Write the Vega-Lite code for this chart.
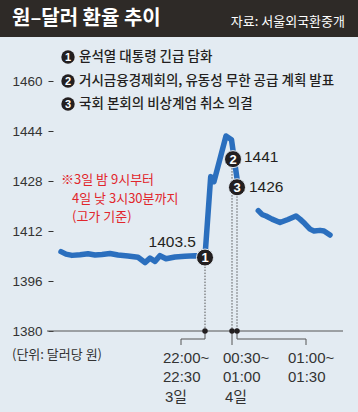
{
  "$schema": "https://vega.github.io/schema/vega-lite/v6.json",
  "width": 358,
  "height": 375,
  "autosize": {"type": "none"},
  "padding": {"top": 37, "left": 0, "right": 0, "bottom": 0},
  "background": "#2e2a27",
  "view": {"fill": "#e3ebf2", "stroke": null},
  "config": {"font": "Noto Sans CJK KR"},
  "datasets": {
    "line": [
      {"seg": 1, "x": 61, "v": 1405.4}, {"seg": 1, "x": 66, "v": 1404.6}, {"seg": 1, "x": 72, "v": 1404.2},
      {"seg": 1, "x": 80, "v": 1404.4}, {"seg": 1, "x": 88, "v": 1404.7}, {"seg": 1, "x": 95, "v": 1404.3},
      {"seg": 1, "x": 102, "v": 1404.5}, {"seg": 1, "x": 110, "v": 1404.8}, {"seg": 1, "x": 118, "v": 1404.3},
      {"seg": 1, "x": 128, "v": 1404.0}, {"seg": 1, "x": 138, "v": 1403.6}, {"seg": 1, "x": 145, "v": 1401.9},
      {"seg": 1, "x": 150, "v": 1403.3}, {"seg": 1, "x": 155, "v": 1402.3}, {"seg": 1, "x": 160, "v": 1404.1},
      {"seg": 1, "x": 166, "v": 1403.1}, {"seg": 1, "x": 175, "v": 1403.7}, {"seg": 1, "x": 185, "v": 1403.9},
      {"seg": 1, "x": 195, "v": 1404.1}, {"seg": 1, "x": 205, "v": 1403.9}, {"seg": 1, "x": 210.7, "v": 1429.4},
      {"seg": 1, "x": 214, "v": 1427.8}, {"seg": 1, "x": 226, "v": 1442.4}, {"seg": 1, "x": 231.5, "v": 1441.2},
      {"seg": 1, "x": 238, "v": 1426.5},
      {"seg": 2, "x": 258.3, "v": 1418.5}, {"seg": 2, "x": 262, "v": 1417.3}, {"seg": 2, "x": 266, "v": 1416.8},
      {"seg": 2, "x": 272, "v": 1415.8}, {"seg": 2, "x": 280, "v": 1414.7}, {"seg": 2, "x": 288, "v": 1415.7},
      {"seg": 2, "x": 296, "v": 1416.8}, {"seg": 2, "x": 300, "v": 1415.8}, {"seg": 2, "x": 305, "v": 1414.3},
      {"seg": 2, "x": 310, "v": 1412.6}, {"seg": 2, "x": 314, "v": 1412.0}, {"seg": 2, "x": 320, "v": 1412.2},
      {"seg": 2, "x": 324, "v": 1412.0}, {"seg": 2, "x": 330, "v": 1410.7}
    ],
    "marks": [
      {"n": "1", "x": 205, "v": 1403.5},
      {"n": "2", "x": 233, "v": 1435},
      {"n": "3", "x": 237, "v": 1426}
    ],
    "drops": [
      {"x": 205, "v": 1403.5, "v2": 1380},
      {"x": 232, "v": 1435, "v2": 1380},
      {"x": 237, "v": 1426, "v2": 1380}
    ],
    "brackets": [
      {"b": 1, "o": 1, "x": 181, "v": 1375.52}, {"b": 1, "o": 2, "x": 181, "v": 1377.44},
      {"b": 1, "o": 3, "x": 205, "v": 1377.44}, {"b": 1, "o": 4, "x": 205, "v": 1380},
      {"b": 2, "o": 1, "x": 232, "v": 1380}, {"b": 2, "o": 2, "x": 232, "v": 1375.52},
      {"b": 3, "o": 1, "x": 237, "v": 1380}, {"b": 3, "o": 2, "x": 237, "v": 1377.44},
      {"b": 3, "o": 3, "x": 306, "v": 1377.44}, {"b": 3, "o": 4, "x": 306, "v": 1375.52}
    ],
    "legend": [
      {"n": "1", "x": 68, "v": 1467.68, "t": "윤석열 대통령 긴급 담화"},
      {"n": "2", "x": 68, "v": 1460, "t": "거시금융경제회의, 유동성 무한 공급 계획 발표"},
      {"n": "3", "x": 68, "v": 1452.64, "t": "국회 본회의 비상계엄 취소 의결"}
    ],
    "note": [
      {"x": 61, "v": 1428.3, "t": "※3일 밤 9시부터"},
      {"x": 72, "v": 1422.4, "t": "4일 낮 3시30분까지"},
      {"x": 72, "v": 1416.5, "t": "(고가 기준)"}
    ],
    "xlabels": [
      {"x": 163, "v": 1371.36, "t": "22:00~"}, {"x": 163, "v": 1365.28, "t": "22:30"}, {"x": 165, "v": 1358.88, "t": "3일"},
      {"x": 223, "v": 1371.36, "t": "00:30~"}, {"x": 223, "v": 1365.28, "t": "01:00"}, {"x": 225, "v": 1358.88, "t": "4일"},
      {"x": 288, "v": 1371.36, "t": "01:00~"}, {"x": 288, "v": 1365.28, "t": "01:30"}
    ],
    "vlabels": [
      {"x": 244, "v": 1435.68, "t": "1441"},
      {"x": 249, "v": 1426.08, "t": "1426"}
    ]
  },
  "encoding": {
    "x": {"field": "x", "type": "quantitative", "scale": {"domain": [0, 358], "nice": false, "zero": false}, "axis": null},
    "y": {"field": "v", "type": "quantitative", "scale": {"domain": [1354.08, 1474.08], "nice": false, "zero": false},
      "axis": {"values": [1380, 1396, 1412, 1428, 1444, 1460], "format": "d", "offset": -53, "domain": false, "grid": false,
        "tickSize": 5, "tickColor": "#333333", "labelPadding": 6, "labelFont": "Liberation Sans",
        "labelFontSize": 13.5, "labelColor": "#333333", "title": null}}
  },
  "layer": [
    {
      "data": {"values": [{"x": 47, "x2": 343, "v": 1380}]},
      "mark": {"type": "rule", "color": "#555555", "strokeWidth": 1},
      "encoding": {"x2": {"field": "x2"}}
    },
    {
      "data": {"name": "drops"},
      "mark": {"type": "rule", "color": "#555555", "strokeWidth": 1, "strokeDash": [1.5, 1.5]},
      "encoding": {"y2": {"field": "v2"}}
    },
    {
      "data": {"name": "brackets"},
      "mark": {"type": "line", "color": "#555555", "strokeWidth": 1},
      "encoding": {"detail": {"field": "b"}, "order": {"field": "o"}}
    },
    {
      "data": {"name": "drops"},
      "mark": {"type": "point", "filled": true, "color": "#231f20", "size": 30, "opacity": 1},
      "encoding": {"y": {"field": "v2", "type": "quantitative"}}
    },
    {
      "data": {"name": "line"},
      "mark": {"type": "line", "color": "#2b6fbe", "strokeWidth": 5.5, "strokeCap": "round", "strokeJoin": "round"},
      "encoding": {"detail": {"field": "seg"}}
    },
    {
      "data": {"name": "marks"},
      "mark": {"type": "point", "filled": true, "color": "#231f20", "size": 290, "opacity": 1, "stroke": "#e3ebf2", "strokeWidth": 1}
    },
    {
      "data": {"name": "marks"},
      "mark": {"type": "text", "color": "white", "font": "Liberation Sans", "fontSize": 13, "fontWeight": "bold", "baseline": "middle", "align": "center", "dy": 0.5},
      "encoding": {"text": {"field": "n"}}
    },
    {
      "data": {"name": "legend"},
      "mark": {"type": "point", "filled": true, "color": "#231f20", "size": 180, "opacity": 1}
    },
    {
      "data": {"name": "legend"},
      "mark": {"type": "text", "color": "white", "font": "Liberation Sans", "fontSize": 11, "fontWeight": "bold", "baseline": "middle", "align": "center", "dy": 0.5},
      "encoding": {"text": {"field": "n"}}
    },
    {
      "data": {"name": "legend"},
      "mark": {"type": "text", "color": "#231f20", "fontSize": 13.5, "fontWeight": 500, "baseline": "middle", "align": "left", "dx": 11},
      "encoding": {"text": {"field": "t"}}
    },
    {
      "data": {"name": "note"},
      "mark": {"type": "text", "color": "#e1262c", "fontSize": 13, "baseline": "middle", "align": "left"},
      "encoding": {"text": {"field": "t"}}
    },
    {
      "data": {"name": "xlabels"},
      "mark": {"type": "text", "color": "#333333", "font": "Liberation Sans, Noto Sans CJK KR", "fontSize": 15, "baseline": "middle", "align": "left"},
      "encoding": {"text": {"field": "t"}}
    },
    {
      "data": {"name": "vlabels"},
      "mark": {"type": "text", "color": "#231f20", "font": "Liberation Sans", "fontSize": 15.5, "baseline": "middle", "align": "left"},
      "encoding": {"text": {"field": "t"}}
    },
    {
      "data": {"values": [{"x": 196, "v": 1408.48, "t": "1403.5"}]},
      "mark": {"type": "text", "color": "#231f20", "font": "Liberation Sans", "fontSize": 15.5, "baseline": "middle", "align": "right"},
      "encoding": {"text": {"field": "t"}}
    },
    {
      "data": {"values": [{"x": 12, "v": 1372.32, "t": "(단위: 달러당 원)"}]},
      "mark": {"type": "text", "color": "#333333", "fontSize": 13, "baseline": "middle", "align": "left"},
      "encoding": {"text": {"field": "t"}}
    },
    {
      "data": {"values": [{"x": 12, "v": 1479.84, "t": "원–달러 환율 추이"}]},
      "mark": {"type": "text", "color": "white", "fontSize": 20, "fontWeight": "bold", "baseline": "middle", "align": "left"},
      "encoding": {"text": {"field": "t"}}
    },
    {
      "data": {"values": [{"x": 345, "v": 1478.88, "t": "자료: 서울외국환중개"}]},
      "mark": {"type": "text", "color": "white", "fontSize": 13, "baseline": "middle", "align": "right"},
      "encoding": {"text": {"field": "t"}}
    }
  ]
}
